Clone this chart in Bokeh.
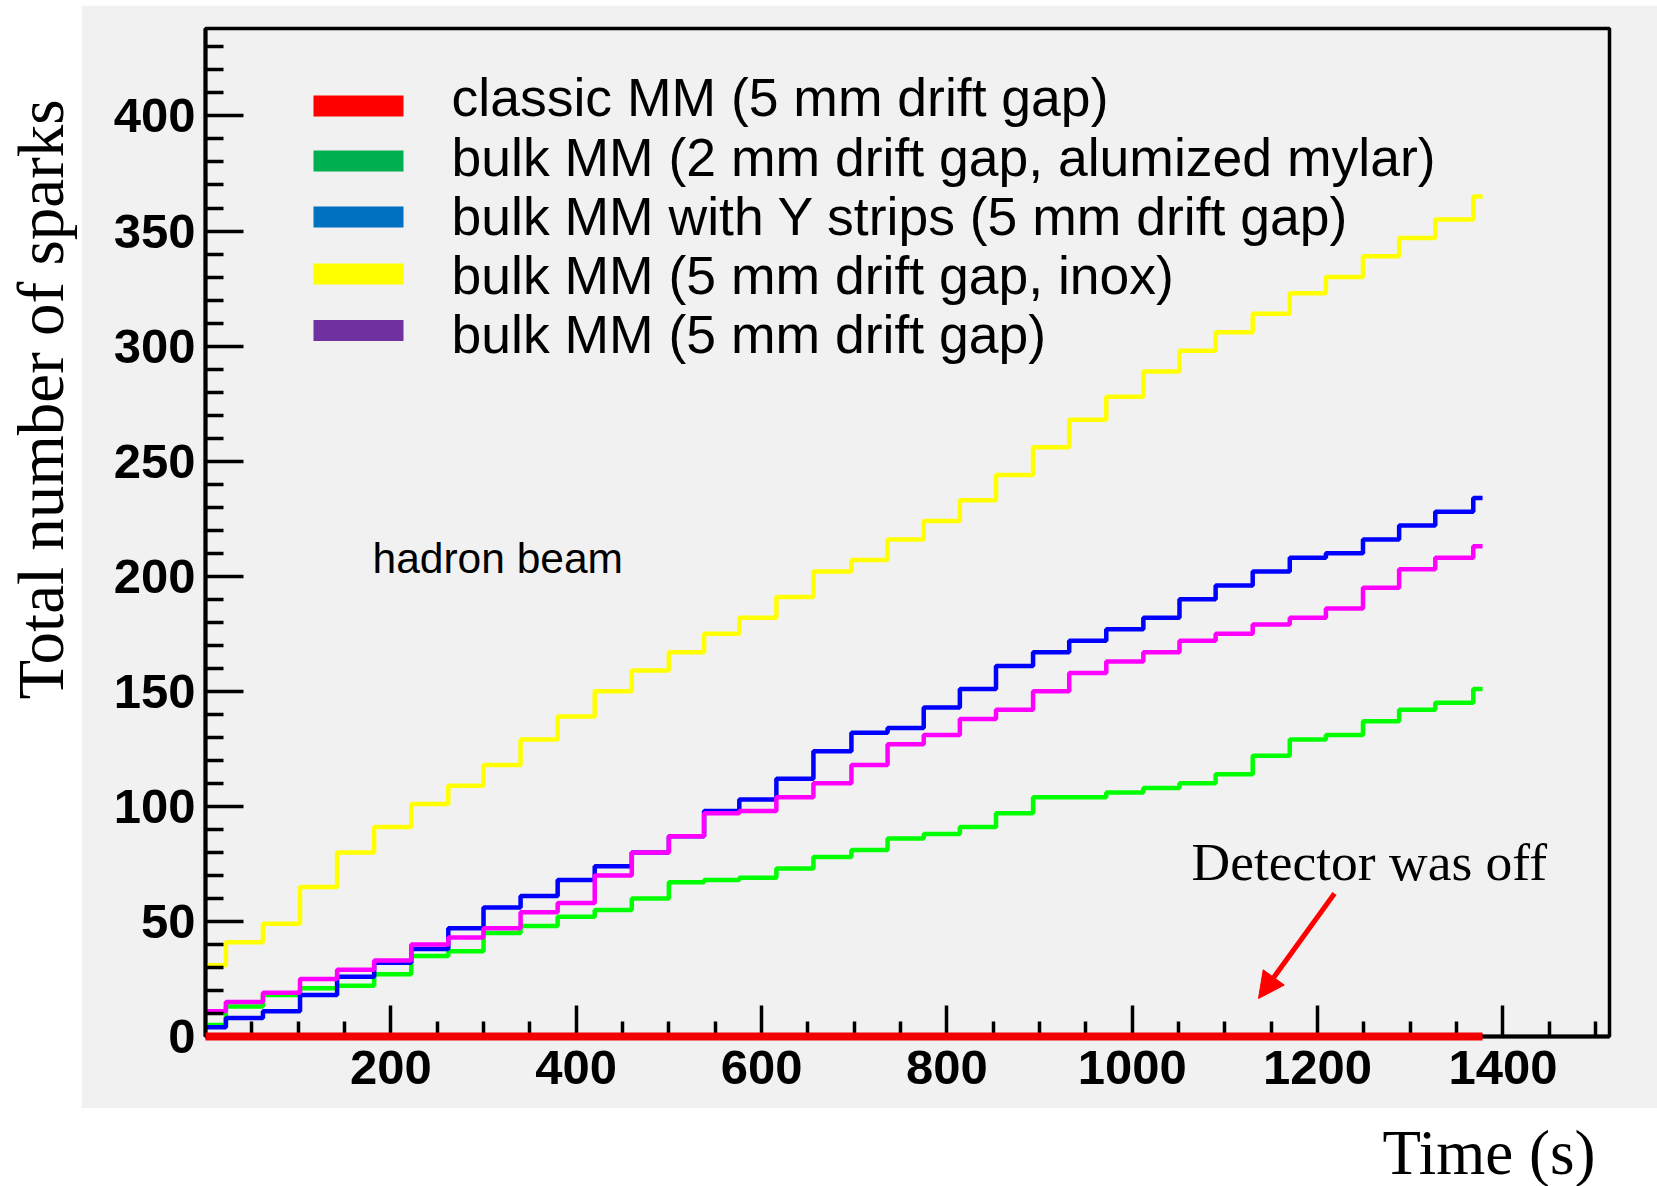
import math
from bokeh.plotting import figure
from bokeh.layouts import row, column
from bokeh.models import Label, Arrow, NormalHead, FixedTicker, Range1d, Spacer
from bokeh.embed import file_html
from bokeh.resources import INLINE

# ---------------- data ----------------
step_times = [0, 22, 62, 102, 142, 182, 222, 262, 300, 340, 380, 420, 460, 500, 538,
              576, 616, 656, 697, 736, 775, 814, 853, 893, 932, 972, 1012, 1051, 1090,
              1130, 1170, 1209, 1249, 1288, 1327, 1368]
end_time = 1378

classic_5mm = [0, 0]
classic_times = [0, end_time]

bulk_2mm_mylar = [5, 13, 18, 21, 22, 27, 35, 37, 45, 48, 52, 55, 60, 67, 68, 69, 73, 78,
                  81, 86, 88, 91, 97, 104, 104, 106, 108, 110, 114, 122, 129, 131, 137,
                  142, 145, 151]
bulk_ystrips_5mm = [4, 8, 11, 18, 26, 32, 38, 47, 56, 61, 68, 74, 80, 87, 98, 103, 112,
                    124, 132, 134, 143, 151, 161, 167, 172, 177, 182, 190, 196, 202, 208,
                    210, 216, 222, 228, 234]
bulk_5mm_inox = [31, 41, 49, 65, 80, 91, 101, 109, 118, 129, 139, 150, 159, 167, 175, 182,
                 191, 202, 207, 216, 224, 233, 244, 256, 268, 278, 289, 298, 306, 314, 323,
                 330, 339, 347, 355, 365]
bulk_5mm = [11, 15, 19, 25, 29, 33, 40, 43, 47, 54, 58, 70, 80, 87, 97, 98, 104, 110, 118,
            127, 131, 138, 142, 150, 158, 163, 167, 172, 175, 179, 182, 186, 195, 203, 208,
            213]

legend_labels = ["classic MM (5 mm drift gap)",
                 "bulk MM (2 mm drift gap, alumized mylar)",
                 "bulk MM with Y strips (5 mm drift gap)",
                 "bulk MM (5 mm drift gap, inox)",
                 "bulk MM (5 mm drift gap)"]
legend_colors = ["#FF0000", "#00B050", "#0070C0", "#FFFF00", "#7030A0"]

x_major = [200, 400, 600, 800, 1000, 1200, 1400]
x_minor = [v for v in range(50, 1515, 50) if v not in x_major]
y_major = [0, 50, 100, 150, 200, 250, 300, 350, 400]
y_minor = [v for v in range(10, 438, 10) if v not in y_major]

# ---------------- layout helpers (page pixel coordinates) ----------------
W, H = 1657, 1186
GX0, GY0, GY1 = 81, 5, 1108          # gray panel: x >= 81, 5 <= y < 1108
X_END, Y_END = 1515, 438
FL, FR, FT, FB = 205, 1609, 28, 1036  # plot frame on the page
GRAY = "#F1F1F1"


def sx(px):
    return (px - FL) / (FR - FL) * X_END


def sy(py):
    return (FB - py) / (FB - FT) * Y_END


# ---------------- main (gray) figure ----------------
p = figure(width=W - GX0, height=GY1 - GY0, output_backend="svg", toolbar_location=None,
           x_range=Range1d(0, X_END), y_range=Range1d(0, Y_END),
           min_border_left=FL - GX0, min_border_right=W - FR,
           min_border_top=FT - GY0, min_border_bottom=GY1 - FB,
           background_fill_color=GRAY, border_fill_color=GRAY)

p.xgrid.visible = False
p.ygrid.visible = False
p.outline_line_color = "black"
p.outline_line_width = 3.5
p.outline_line_alpha = 1.0

for ax in (p.xaxis[0], p.yaxis[0]):
    ax.axis_line_width = 4
    ax.axis_line_color = "black"
    ax.major_tick_line_width = 3.5
    ax.minor_tick_line_width = 3.5
    ax.major_tick_line_color = "black"
    ax.minor_tick_line_color = "black"
    ax.major_tick_out = 0
    ax.minor_tick_out = 0
    ax.major_label_text_font = "Liberation Sans"
    ax.major_label_text_font_style = "bold"
    ax.major_label_text_font_size = "49px"
    ax.major_label_text_color = "black"

p.xaxis[0].ticker = FixedTicker(ticks=x_major, minor_ticks=x_minor)
p.yaxis[0].ticker = FixedTicker(ticks=y_major, minor_ticks=y_minor)
p.xaxis[0].major_tick_in = 31
p.xaxis[0].minor_tick_in = 15
p.yaxis[0].major_tick_in = 38
p.yaxis[0].minor_tick_in = 18
p.xaxis[0].major_label_standoff = 14
p.yaxis[0].major_label_standoff = 10

# series
xs = step_times + [end_time]
LW = 4.5
p.step(xs, bulk_5mm_inox + [bulk_5mm_inox[-1]], mode="after", line_color="#FFFF00", line_width=LW)
p.step(xs, bulk_2mm_mylar + [bulk_2mm_mylar[-1]], mode="after", line_color="#00FF00", line_width=LW)
p.step(xs, bulk_ystrips_5mm + [bulk_ystrips_5mm[-1]], mode="after", line_color="#0000FF", line_width=LW)
p.step(xs, bulk_5mm + [bulk_5mm[-1]], mode="after", line_color="#FF00FF", line_width=LW)
red = p.line(classic_times, classic_5mm, line_color="#F00000", line_width=8)
red.level = "overlay"

# legend (drawn by hand)
sw_centers = [105.5, 160.5, 216.5, 273.5, 330]
txt_base = [97, 157, 216, 275, 334]
p.rect(x=[sx(358)] * 5, y=[sy(c) for c in sw_centers], width=sx(403) - sx(313),
       height=21 / (FB - FT) * Y_END, fill_color=legend_colors, line_color=None)
for lab, b in zip(legend_labels, txt_base):
    p.add_layout(Label(x=451 - GX0, y=b - GY0, x_units="canvas", y_units="canvas", text=lab,
                       text_font="Liberation Sans", text_font_size="53.5px",
                       text_color="black", text_baseline="alphabetic", text_align="left"))

# annotations inside the frame
p.add_layout(Label(x=372 - GX0, y=558 - GY0, x_units="canvas", y_units="canvas",
                   text="hadron beam", text_font="Liberation Sans", text_font_size="42.5px",
                   text_color="black", text_baseline="alphabetic"))
p.add_layout(Label(x=1191 - GX0, y=861 - GY0, x_units="canvas", y_units="canvas",
                   text="Detector was off", text_font="Liberation Serif",
                   text_font_size="53.5px", text_color="black", text_baseline="alphabetic"))
p.add_layout(Arrow(x_start=sx(1334), y_start=sy(893), x_end=sx(1258), y_end=sy(998),
                   line_color="#FF0000", line_width=5,
                   end=NormalHead(size=26, fill_color="#FF0000", line_color="#FF0000")))

# ---------------- left white strip: y-axis title ----------------
left = figure(width=GX0, height=H, output_backend="svg", toolbar_location=None,
              x_range=Range1d(0, GX0), y_range=Range1d(H, 0),
              x_axis_type=None, y_axis_type=None, min_border=0,
              background_fill_color="white", border_fill_color="white")
left.outline_line_color = None
left.grid.visible = False
left.add_layout(Label(x=40, y=399, text="Total number of sparks", angle=math.pi / 2,
                      text_font="Liberation Serif", text_font_size="65px", text_color="black",
                      text_align="center", text_baseline="middle"))

# ---------------- bottom white strip: x-axis title ----------------
bottom = figure(width=W - GX0, height=H - GY1, output_backend="svg", toolbar_location=None,
                x_range=Range1d(GX0, W), y_range=Range1d(H, GY1),
                x_axis_type=None, y_axis_type=None, min_border=0,
                background_fill_color="white", border_fill_color="white")
bottom.outline_line_color = None
bottom.grid.visible = False
bottom.add_layout(Label(x=1382 - GX0, y=1152 - GY1, x_units="canvas", y_units="canvas",
                        text="Time (s)", text_font="Liberation Serif",
                        text_font_size="63px", text_color="black", text_align="left",
                        text_baseline="alphabetic"))

layout = row(left,
             column(Spacer(width=W - GX0, height=GY0), p, bottom, spacing=0),
             spacing=0)

open("out.html", "w").write(file_html(layout, INLINE))
